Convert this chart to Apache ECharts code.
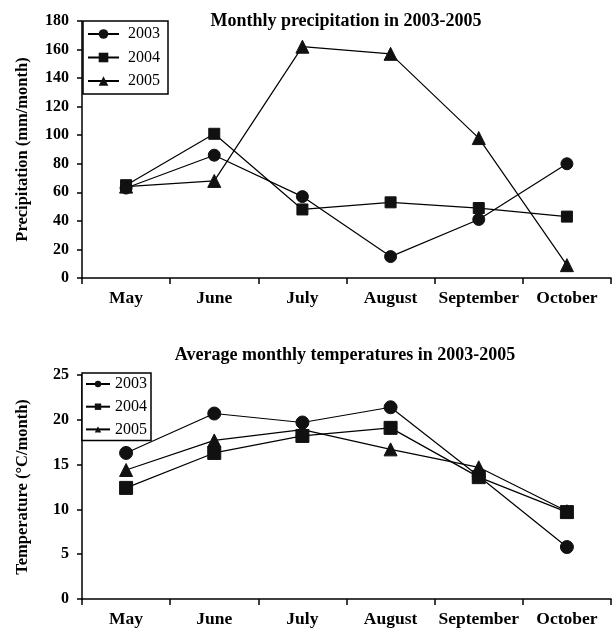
<!DOCTYPE html>
<html><head><meta charset="utf-8">
<script src="https://cdn.jsdelivr.net/npm/echarts@6/dist/echarts.min.js"></script>
<style>html,body{margin:0;padding:0;background:#fff}#c{width:613px;height:628px}</style>
</head><body><div id="c"></div>
<script>
const months = ['May','June','July','August','September','October'];
const years = ['2003','2004','2005'];
const precip2003 = [63, 86, 57, 15, 41, 80];
const precip2004 = [65, 101, 48, 53, 49, 43];
const precip2005 = [64, 68, 162, 157, 98, 9];
const temp2003 = [16.3, 20.7, 19.7, 21.4, 13.7, 5.8];
const temp2004 = [12.4, 16.3, 18.2, 19.1, 13.6, 9.7];
const temp2005 = [14.4, 17.7, 18.9, 16.7, 14.7, 9.8];
const precipTicks = {min: 0, max: 180, interval: 20};
const tempTicks = {min: 0, max: 25, interval: 5};

const F = 'Liberation Serif, Times New Roman, serif';
const symbols = ['circle', 'rect', 'triangle'];
const topSizes = [12, 11, 13];
const botSizes = [13, 13, 13];

function axisX(gi, margin) {
  return {
    type: 'category', gridIndex: gi, data: months, boundaryGap: true,
    axisLine: {lineStyle: {color: '#000', width: 1.5}},
    axisTick: {show: true, length: 6, lineStyle: {color: '#000', width: 1.5}},
    axisLabel: {color: '#000', fontFamily: F, fontWeight: 'bold', fontSize: 17.5, margin: margin, interval: 0},
    splitLine: {show: false}
  };
}
function axisY(gi, t, name) {
  return {
    type: 'value', gridIndex: gi, min: t.min, max: t.max, interval: t.interval,
    name: name, nameLocation: 'middle', nameGap: 51,
    nameTextStyle: {color: '#000', fontFamily: F, fontWeight: 'bold', fontSize: 16.5},
    axisLine: {show: true, lineStyle: {color: '#000', width: 1.5}},
    axisTick: {show: true, length: 5, lineStyle: {color: '#000', width: 1.5}},
    axisLabel: {color: '#000', fontFamily: F, fontWeight: 'bold', fontSize: 16, margin: 13},
    splitLine: {show: false}
  };
}
function mk(name, data, gi, sym, size) {
  return {
    type: 'line', name: name, data: data, xAxisIndex: gi, yAxisIndex: gi,
    symbol: sym, symbolSize: size, showSymbol: true,
    lineStyle: {color: '#000', width: 1.2},
    itemStyle: {color: '#111', borderColor: '#111'},
    emphasis: {disabled: true}, animation: false, z: 2
  };
}
const series = [];
[precip2003, precip2004, precip2005].forEach((d, i) => series.push(mk(years[i], d, 0, symbols[i], topSizes[i])));
[temp2003, temp2004, temp2005].forEach((d, i) => series.push(mk(years[i], d, 1, symbols[i], botSizes[i])));

const chart = echarts.init(document.getElementById('c'), null, {renderer: 'canvas'});
chart.setOption({
  backgroundColor: '#fff',
  animation: false,
  title: [
    {text: 'Monthly precipitation in 2003-2005', left: 346, top: 12, textAlign: 'center', padding: 0,
     textStyle: {fontFamily: F, fontWeight: 'bold', fontSize: 18, color: '#000'}},
    {text: 'Average monthly temperatures in 2003-2005', left: 345, top: 346, textAlign: 'center', padding: 0,
     textStyle: {fontFamily: F, fontWeight: 'bold', fontSize: 18, color: '#000'}}
  ],
  legend: [
    {data: years, orient: 'vertical', left: 83, top: 21, padding: [5, 8, 5, 4], itemGap: 7.5,
     itemWidth: 31, itemHeight: 12, borderColor: '#000', borderWidth: 1.5, backgroundColor: '#fff',
     selectedMode: false, z: 10,
     textStyle: {fontFamily: F, fontSize: 16, color: '#000', padding: [0, 0, 0, 4]}},
    {data: years, orient: 'vertical', left: 82, top: 373, padding: [3, 4, 3, 3], itemGap: 6.7,
     itemWidth: 24, itemHeight: 8, borderColor: '#000', borderWidth: 1.5, backgroundColor: '#fff',
     selectedMode: false, z: 10,
     textStyle: {fontFamily: F, fontSize: 16, color: '#000'}}
  ],
  grid: [
    {left: 82, right: 2, top: 21, height: 257},
    {left: 82, right: 2, top: 375, height: 224}
  ],
  xAxis: [axisX(0, 11), axisX(1, 11)],
  yAxis: [axisY(0, precipTicks, 'Precipitation (mm/month)'), axisY(1, tempTicks, 'Temperature (°C/month)')],
  series: series
});
</script></body></html>
